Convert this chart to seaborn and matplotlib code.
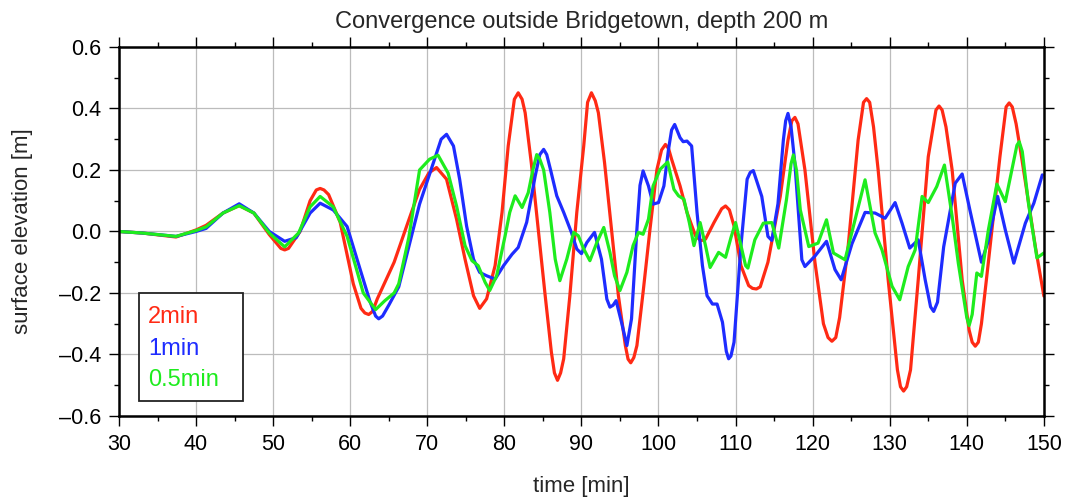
import numpy as np
import pandas as pd
import matplotlib
matplotlib.use("Agg")
import matplotlib.pyplot as plt
from matplotlib.patches import Rectangle
from matplotlib.ticker import MultipleLocator
import seaborn as sns

# time [min] and surface elevation [m] for each grid resolution
t_2min = [30, 33, 37.4, 40, 41.3, 43.5, 45.6, 47.5, 49.5, 51.0,
          51.5, 52.0, 53.5, 54.8, 55.6, 56.1, 56.6, 57.2, 58.7, 60.4,
          61.4, 61.9, 62.4, 62.9, 63.5, 65.7, 67.5, 69, 70.2, 71.2,
          72.5, 73.8, 74.9, 76, 76.8, 77.7, 78.8, 79.7, 80.5, 81.3,
          81.8, 82.3, 82.7, 83.5, 84.4, 85.3, 86.1, 86.5, 86.9, 87.3,
          87.7, 88.5, 89.4, 90.3, 90.8, 91.3, 91.8, 92.2, 93, 93.9,
          94.8, 95.7, 96.05, 96.4, 96.8, 97.2, 98, 98.9, 99.8, 100.4,
          100.9, 101.3, 101.7, 102.8, 103.7, 104.8, 105.5, 106.1, 107.2, 108.2,
          108.7, 109.2, 109.8, 110.7, 111.7, 112.2, 112.7, 113.2, 114.2, 115.8,
          116.8, 117.3, 117.7, 118.1, 119, 120.3, 121.4, 122.0, 122.5, 123.0,
          123.5, 124.6, 125.9, 126.6, 127, 127.4, 127.9, 128.5, 129.8, 131,
          131.4, 131.8, 132.2, 132.7, 133.7, 135, 136.0, 136.4, 136.8, 137.3,
          138.1, 139.4, 140.3, 140.7, 141.1, 141.5, 141.9, 142.8, 144.3, 145.1,
          145.5, 145.9, 146.4, 147.1, 148.9, 150]
z_2min = [0.0, -0.005, -0.018, 0.005, 0.02, 0.06, 0.084, 0.06, -0.01, -0.055,
          -0.06, -0.055, 0.0, 0.1, 0.135, 0.14, 0.135, 0.12, 0.03, -0.17,
          -0.25, -0.265, -0.27, -0.26, -0.22, -0.10, 0.03, 0.137, 0.19, 0.208,
          0.17, 0.04, -0.09, -0.209, -0.25, -0.219, -0.111, 0.062, 0.278, 0.43,
          0.451, 0.43, 0.386, 0.222, 0.008, -0.209, -0.392, -0.46, -0.484, -0.46,
          -0.414, -0.209, 0.062, 0.278, 0.42, 0.451, 0.425, 0.386, 0.224, 0.008,
          -0.209, -0.371, -0.415, -0.427, -0.41, -0.371, -0.198, 0.008, 0.202, 0.265,
          0.283, 0.27, 0.235, 0.148, 0.062, -0.014, -0.03, -0.025, 0.029, 0.074,
          0.083, 0.07, 0.018, -0.111, -0.176, -0.185, -0.187, -0.18, -0.1, 0.114,
          0.297, 0.36, 0.371, 0.35, 0.2, -0.1, -0.30, -0.345, -0.357, -0.345,
          -0.28, -0.05, 0.297, 0.42, 0.432, 0.42, 0.34, 0.2, -0.157, -0.45,
          -0.505, -0.519, -0.505, -0.45, -0.157, 0.243, 0.395, 0.408, 0.395, 0.34,
          0.2, -0.157, -0.32, -0.36, -0.373, -0.36, -0.30, -0.1, 0.243, 0.405,
          0.418, 0.405, 0.35, 0.243, -0.05, -0.21]

t_1min = [30, 33, 37.4, 40, 41.3, 43.5, 45.6, 47.5, 49.5, 51.5,
          53, 54.8, 56.1, 57.8, 59.6, 61.3, 62.6, 63.3, 63.7, 64.2,
          65, 66.3, 67.5, 69, 70.8, 71.8, 72.5, 73.4, 74.2, 75.1,
          76, 76.8, 77.7, 78.8, 79.9, 81, 81.8, 82.9, 84, 84.6,
          85.1, 85.5, 86, 86.8, 87.7, 88.7, 89.4, 90.0, 90.7, 91.7,
          92.6, 93.3, 93.7, 94.1, 94.5, 95.2, 95.9, 96.5, 97.2, 97.6,
          98, 98.7, 99.3, 100, 100.7, 101.3, 101.7, 102.1, 102.8, 103.2,
          103.7, 104.3, 105, 105.7, 106.3, 107, 107.6, 108.3, 108.8, 109.1,
          109.4, 109.8, 110.7, 111.5, 111.9, 112.3, 113.4, 114.2, 114.7, 115.5,
          116.2, 116.5, 116.8, 117.2, 117.7, 118.6, 119, 120.3, 121.8, 122.9,
          123.7, 125.1, 126.8, 128.1, 129.4, 130.7, 131.6, 132.6, 133.7, 134.6,
          135.3, 135.7, 136.2, 137, 138.5, 139.4, 140.4, 141.9, 142.8, 144,
          145, 146.1, 147.6, 148.7, 149.8]
z_1min = [0.0, -0.005, -0.016, 0.0, 0.01, 0.06, 0.09, 0.06, 0.0, -0.032,
          -0.02, 0.06, 0.092, 0.07, 0.016, -0.124, -0.23, -0.275, -0.284, -0.275,
          -0.24, -0.18, -0.06, 0.089, 0.224, 0.3, 0.316, 0.278, 0.17, 0.018,
          -0.09, -0.133, -0.144, -0.155, -0.111, -0.074, -0.052, 0.03, 0.18, 0.25,
          0.267, 0.25, 0.2, 0.116, 0.062, -0.003, -0.057, -0.072, -0.036, -0.003,
          -0.09, -0.22, -0.246, -0.24, -0.225, -0.295, -0.371, -0.284, 0.008, 0.15,
          0.197, 0.148, 0.089, 0.094, 0.148, 0.267, 0.33, 0.348, 0.305, 0.292,
          0.294, 0.278, 0.062, -0.111, -0.209, -0.236, -0.236, -0.295, -0.39, -0.414,
          -0.405, -0.36, -0.046, 0.17, 0.192, 0.198, 0.114, -0.016, -0.029, 0.09,
          0.297, 0.36, 0.384, 0.34, 0.22, -0.092, -0.114, -0.08, -0.032, -0.124,
          -0.157, -0.04, 0.062, 0.06, 0.043, 0.094, 0.027, -0.054, -0.027, -0.157,
          -0.245, -0.26, -0.23, -0.05, 0.157, 0.187, 0.07, -0.1, -0.03, 0.114,
          0.005, -0.103, 0.027, 0.092, 0.184]

t_05min = [30, 33, 37.4, 40, 41.3, 43.5, 45.6, 47.5, 49.5, 51.5,
           53.3, 54.8, 56.1, 57.8, 59.6, 61.7, 63.3, 64.5, 65.7, 66.3,
           67.6, 69, 70.3, 71.4, 72.7, 73.8, 74.9, 75.8, 76.6, 77.5,
           78.1, 79, 80.1, 80.7, 81.4, 82.3, 83.1, 83.7, 84.2, 84.6,
           85.1, 85.9, 86.6, 87.2, 88.1, 89, 89.6, 90.3, 91.1, 92,
           92.9, 93.7, 94.3, 95, 95.9, 96.7, 97.4, 98, 98.7, 99.3,
           100.2, 101.2, 102, 102.6, 103.3, 104, 104.6, 105.4, 106.1, 106.7,
           107.8, 108.7, 109.4, 110, 110.7, 111.3, 111.6, 112.5, 113.6, 114.7,
           115.6, 116.6, 117.2, 117.5, 117.9, 118.4, 119.5, 120.7, 121.8, 122.7,
           124.2, 125.5, 126.8, 128.1, 129, 130.3, 131.3, 132.4, 133.3, 134.2,
           135, 136.1, 137.1, 138.1, 138.9, 140.0, 140.3, 140.7, 141.3, 141.9,
           142.8, 143.9, 145, 146.5, 146.8, 147.2, 148, 149.1, 150]
z_05min = [0.0, -0.005, -0.016, 0.003, 0.015, 0.06, 0.084, 0.06, -0.005, -0.05,
           -0.005, 0.08, 0.114, 0.08, -0.016, -0.2, -0.254, -0.225, -0.2, -0.17,
           -0.02, 0.2, 0.235, 0.248, 0.19, 0.083, -0.046, -0.095, -0.111, -0.165,
           -0.192, -0.144, -0.014, 0.062, 0.116, 0.078, 0.126, 0.2, 0.25, 0.235,
           0.2, 0.062, -0.09, -0.16, -0.09, -0.003, -0.014, -0.057, -0.095, -0.036,
           0.013, -0.068, -0.144, -0.192, -0.133, -0.046, -0.003, -0.009, 0.04, 0.148,
           0.202, 0.226, 0.137, 0.116, 0.105, 0.029, -0.046, 0.029, -0.046, -0.117,
           -0.068, -0.084, -0.02, 0.029, -0.046, -0.111, -0.119, -0.027, 0.027, 0.029,
           -0.054, 0.103, 0.22, 0.249, 0.2, 0.07, -0.049, -0.038, 0.038, -0.07,
           -0.092, 0.038, 0.168, -0.005, -0.06, -0.178, -0.222, -0.114, -0.06, 0.114,
           0.094, 0.146, 0.216, 0.049, -0.103, -0.28, -0.306, -0.27, -0.135, -0.146,
           0.005, 0.154, 0.097, 0.28, 0.292, 0.26, 0.092, -0.086, -0.07]

labels = ["2min", "1min", "0.5min"]
colors = {"2min": "#ff2a14", "1min": "#1e2cff", "0.5min": "#1eec1e"}

df = pd.concat([
    pd.DataFrame({"time": t_2min, "elev": z_2min, "run": "2min"}),
    pd.DataFrame({"time": t_1min, "elev": z_1min, "run": "1min"}),
    pd.DataFrame({"time": t_05min, "elev": z_05min, "run": "0.5min"}),
], ignore_index=True)

sns.set_style("ticks")
plt.rcParams["font.family"] = ["Liberation Sans", "DejaVu Sans"]

fig = plt.figure(figsize=(10.68, 5.03), dpi=100)
ax = fig.add_axes([0.1114, 0.173, 0.866, 0.7336])

sns.lineplot(data=df, x="time", y="elev", hue="run", hue_order=labels,
             palette=colors, linewidth=2.3, sort=False, estimator=None, ax=ax,
             solid_joinstyle="round", solid_capstyle="round")

ax.set_xlim(30, 150)
ax.set_ylim(-0.6, 0.6)
ax.xaxis.set_major_locator(MultipleLocator(10))
ax.xaxis.set_minor_locator(MultipleLocator(5))
ax.yaxis.set_minor_locator(MultipleLocator(0.1))
yt = np.round(np.arange(-0.6, 0.61, 0.2), 1)
ax.set_yticks(yt)
ax.set_yticklabels([f"{v:.1f}".replace("-", "\u2013") for v in yt])
ax.grid(True, which="major", color="#bcbcbc", linewidth=0.9)
ax.set_axisbelow(True)

ax.tick_params(which="both", direction="out", top=True, right=True, colors="black",
               labelsize=15.5, width=1.0)
ax.tick_params(which="major", length=7, pad=6)
ax.tick_params(which="minor", length=3.5)
for s in ax.spines.values():
    s.set_linewidth(1.8)
    s.set_color("black")

ax.set_xlabel("time [min]", fontsize=16)
ax.xaxis.set_label_coords(0.5, -0.163)
ax.set_ylabel("surface elevation [m]", fontsize=16)
ax.yaxis.set_label_coords(-0.093, 0.5)
ax.set_title("Convergence outside Bridgetown, depth 200 m", fontsize=17, pad=14)

# legend: coloured labels only, inside a plain square box
ax.add_patch(Rectangle((0.0216, 0.0407), 0.1124, 0.2927, transform=ax.transAxes,
                       facecolor="white", edgecolor="#222222", linewidth=1.3, zorder=4))
leg = ax.legend(loc="upper left", bbox_to_anchor=(0.0314, 0.298), handlelength=0,
                handletextpad=0, fontsize=17, labelspacing=0.41, borderpad=0,
                borderaxespad=0, frameon=False, labelcolor="linecolor")
leg.set_zorder(5)
for h in leg.legend_handles:
    h.set_visible(False)

fig.savefig("out.png", dpi=100)
